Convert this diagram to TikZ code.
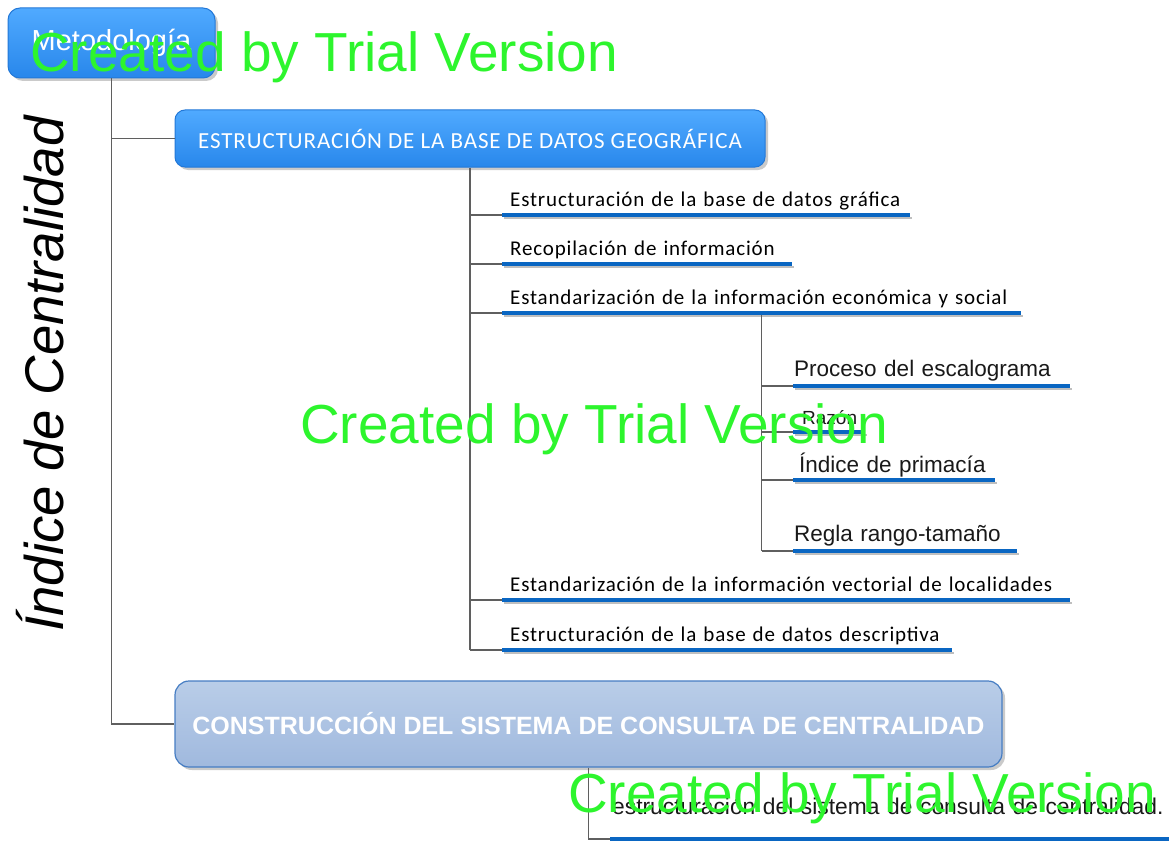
\documentclass[tikz,border=0pt]{standalone}
\usepackage{fontspec}
\setmainfont{Liberation Sans}
\newfontfamily\calfont[LetterSpace=4]{Carlito}
\newfontfamily\arfont{Liberation Sans}
\usetikzlibrary{shadows}

\definecolor{brightblueTop}{RGB}{80,170,255}
\definecolor{brightblueBot}{RGB}{40,135,235}
\definecolor{brightedge}{RGB}{35,120,215}
\definecolor{paleTop}{RGB}{185,205,232}
\definecolor{paleBot}{RGB}{160,185,222}
\definecolor{paleedge}{RGB}{70,125,195}
\definecolor{ulblue}{RGB}{10,102,194}
\definecolor{connector}{RGB}{95,95,95}
\definecolor{stampgreen}{RGB}{45,245,45}

\tikzset{
  x=1pt, y=-1pt,
  boxshadow/.style={drop shadow={shadow xshift=3pt, shadow yshift=-3pt, opacity=0.35, fill=black!60}},
  rootbox/.style={draw=brightedge, line width=1pt, rounded corners=12pt,
    top color=brightblueTop, bottom color=brightblueBot, boxshadow,
    text=white, font=\arfont\fontsize{29}{31}\selectfont,
    minimum width=207pt, minimum height=70pt, inner sep=0pt},
  brightbox/.style={draw=brightedge, line width=1pt, rounded corners=10pt,
    top color=brightblueTop, bottom color=brightblueBot, boxshadow,
    text=white, font=\calfont\fontsize{23}{25}\selectfont,
    minimum width=590pt, minimum height=57pt, inner sep=0pt},
  palebox/.style={draw=paleedge, line width=1.2pt, rounded corners=14pt,
    top color=paleTop, bottom color=paleBot, boxshadow,
    text=white, font=\arfont\bfseries\fontsize{25}{27}\selectfont,
    minimum width=827pt, minimum height=86pt, inner sep=0pt},
  item/.style={anchor=south west, inner xsep=8pt, inner ysep=0pt, text depth=8pt,
    align=left, font=\calfont\fontsize{21}{23}\selectfont, text=black},
  subitem/.style={anchor=south west, inner xsep=1pt, inner ysep=0pt, text depth=9pt,
    align=left, font=\arfont\fontsize{22.5}{24}\selectfont, text=black!90},
  uline/.style={draw=ulblue, line width=3.5pt},
  ushadow/.style={draw=black!25, line width=2pt},
  conn/.style={draw=connector, line width=1.2pt},
  stamp/.style={anchor=base west, inner sep=0pt, text=stampgreen,
    font=\arfont\fontsize{55}{57}\selectfont},
}

\begin{document}
\begin{tikzpicture}
\useasboundingbox (0,0) rectangle (1169,840);

% vertical title
\node[rotate=90, anchor=base, inner sep=0pt,
      font=\arfont\itshape\fontsize{54.5}{56}\selectfont] (title) at (63,374) {Índice de Centralidad};

% main boxes
\node[rootbox]   (b1) at (111.5,43)  {Metodología};
\node[brightbox] (b2) at (470,138.5) {ESTRUCTURACIÓN DE LA BASE DE DATOS GEOGRÁFICA};
\node[palebox]   (b3) at (588.5,724) {CONSTRUCCIÓN DEL SISTEMA DE CONSULTA DE CENTRALIDAD};

% first-level items
\node[item, text width=392pt] (g1) at (502,215) {Estructuración de la base de datos gráfica};
\node[item, text width=274pt] (g2) at (502,264) {Recopilación de información};
\node[item, text width=503pt] (g3) at (502,313) {Estandarización de la información económica y social};
\node[item, text width=552pt] (g4) at (502,600) {Estandarización de la información vectorial de localidades};
\node[item, text width=434pt] (g5) at (502,650) {Estructuración de la base de datos descriptiva};

% second-level items
\node[subitem, text width=275pt] (s1) at (793,386) {Proceso del escalograma};
\node[subitem, text width=70pt, text depth=7pt, font=\arfont\fontsize{19}{21}\selectfont] (s2) at (793,432) {\hspace*{8pt}Razón};
\node[subitem, text width=200pt, text depth=7pt] (s3) at (793,480) {\hspace*{5pt}Índice de primacía};
\node[subitem, text width=222pt] (s4) at (793,551) {Regla rango-tamaño};

% item under the second box
\node[subitem, text width=600pt, inner xsep=2pt, text depth=24pt,
      font=\arfont\fontsize{22.8}{24}\selectfont] (c1) at (610,839) {estructuración del sistema de consulta de centralidad.};

% underline shadows
\foreach \n in {g1,g2,g3,g4,g5,s1,s2,s3,s4,c1}
  \draw[ushadow] ([shift={(2pt,-2.5pt)}]\n.south west) -- ([shift={(2pt,-2.5pt)}]\n.south east);

% tree connectors
\draw[conn] (b1.south) |- (b2.west);
\draw[conn] (b1.south) |- (b3.west);
\draw[conn] (b2.south) -- (b2.south |- g5.south west);
\foreach \n in {g1,g2,g3,g4,g5} \draw[conn] (b2.south |- \n.south west) -- (\n.south west);
\draw[conn] (g3.south) -- (g3.south |- s4.south west);
\foreach \n in {s1,s2,s3,s4} \draw[conn] (g3.south |- \n.south west) -- (\n.south west);
\draw[conn] (b3.south) -- (b3.south |- c1.south west) -- (c1.south west);

% underlines
\foreach \n in {g1,g2,g3,g4,g5,s1,s2,s3,s4,c1} \draw[uline] (\n.south west) -- (\n.south east);

% trial stamps
\node[stamp] (w1) at (30,72)  {Created by Trial Version};
\node[stamp] (w2) at (300,443) {Created by Trial Version};
\node[stamp] (w3) at (568,812) {Created by Trial Version};
\end{tikzpicture}
\end{document}
